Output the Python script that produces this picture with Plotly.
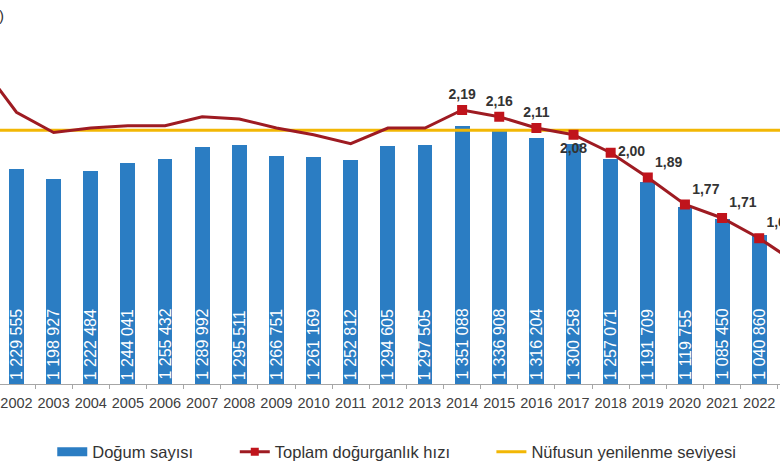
import plotly.graph_objects as go

# births (Doğum sayısı), 2002-2022
birth_years = list(range(2002, 2023))
births = [1229555, 1198927, 1222484, 1244041, 1255432, 1289992, 1295511,
          1266751, 1261169, 1252812, 1294605, 1297505, 1351088, 1336908,
          1316204, 1300258, 1257071, 1191709, 1119755, 1085450, 1040860]

# total fertility rate (Toplam doğurganlık hızı), 2001-2023
tfr_years = list(range(2001, 2024))
tfr = [2.40, 2.18, 2.09, 2.11, 2.12, 2.12, 2.16, 2.15, 2.11, 2.08, 2.04,
       2.11, 2.11, 2.19, 2.16, 2.11, 2.08, 2.00, 1.89, 1.77, 1.71, 1.62, 1.51]

# only these years carry a marker and a value label
label_years = list(range(2014, 2023))
label_pos = ["top center", "top center", "top center", "bottom center",
             "middle right", "top right", "top right", "top right", "top right"]

replacement = 2.10

BLUE = "#2b7dc3"
DARKRED = "#9e1b22"
RED = "#c0141c"
YELLOW = "#f2b705"
FONT = "Liberation Sans, Arial, sans-serif"

birth_txt = [f"{v:,}".replace(",", " ") for v in births]
lab_vals = [tfr[tfr_years.index(y)] for y in label_years]
lab_txt = [f"{v:.2f}".replace(".", ",") for v in lab_vals]

fig = go.Figure()

fig.add_trace(go.Bar(
    x=birth_years, y=births, width=0.4,
    marker=dict(color=BLUE, line=dict(width=0)),
    showlegend=False, hoverinfo="skip",
))

fig.add_trace(go.Scatter(
    x=tfr_years, y=[replacement] * len(tfr_years), yaxis="y2",
    mode="lines", line=dict(color=YELLOW, width=3),
    showlegend=False, hoverinfo="skip",
))

fig.add_trace(go.Scatter(
    x=tfr_years, y=tfr, yaxis="y2",
    mode="lines", line=dict(color=DARKRED, width=3),
    showlegend=False, hoverinfo="skip",
))

fig.add_trace(go.Scatter(
    x=label_years, y=lab_vals, yaxis="y2",
    mode="markers+text",
    marker=dict(symbol="square", size=10, color=RED),
    text=lab_txt, textposition=label_pos,
    textfont=dict(color="#333333", size=14, family=FONT, weight="bold"),
    showlegend=False, hoverinfo="skip",
))

# legend entries (excel style symbols)
fig.add_trace(go.Scatter(
    x=[None], y=[None], mode="lines", name="Doğum sayısı",
    line=dict(color=BLUE, width=9), legend="legend",
))
fig.add_trace(go.Scatter(
    x=[None], y=[None], mode="lines+markers", name="Toplam doğurganlık hızı",
    line=dict(color=DARKRED, width=3),
    marker=dict(symbol="square", size=8, color=RED), legend="legend2",
))
fig.add_trace(go.Scatter(
    x=[None], y=[None], mode="lines", name="Nüfusun yenilenme seviyesi",
    line=dict(color=YELLOW, width=3), legend="legend3",
))

# vertical value labels sitting at the foot of each bar
annots = []
for yr, t in zip(birth_years, birth_txt):
    annots.append(dict(
        text=t, x=yr, xref="x", y=0, yref="paper",
        xanchor="center", yanchor="bottom", yshift=2,
        textangle=-90, showarrow=False,
        font=dict(size=16, color="white", family=FONT),
    ))
annots.append(dict(text=")", xref="paper", yref="paper", x=0, y=1,
                   xanchor="left", yanchor="top", xshift=-3, yshift=-5,
                   showarrow=False,
                   font=dict(size=15, color="#333333", family=FONT)))

leg = dict(orientation="h", yref="container", xref="container",
           yanchor="middle", y=0.038, xanchor="left",
           font=dict(size=16.5, color="#333333", family=FONT),
           bgcolor="rgba(0,0,0,0)")

fig.update_layout(
    width=780, height=470,
    margin=dict(l=0, r=0, t=0, b=86, autoexpand=False),
    paper_bgcolor="white", plot_bgcolor="white",
    font=dict(family=FONT, color="#333333"),
    bargap=0,
    xaxis=dict(
        range=[2001.556, 2022.56],
        tickvals=birth_years, ticks="",
        tickfont=dict(size=14.5, color="#404040"),
        ticklabelstandoff=6,
        showline=True, linecolor="#a6a6a6", linewidth=1,
        showgrid=False, zeroline=False,
        minor=dict(tickmode="linear", tick0=2001.5, dtick=1,
                   ticks="outside", ticklen=4, tickcolor="#a6a6a6",
                   showgrid=False),
    ),
    yaxis=dict(range=[614000, 1711000], visible=False, showgrid=False),
    yaxis2=dict(range=[0.972, 2.679], overlaying="y", visible=False,
                showgrid=False),
    legend=dict(leg, x=0.067),
    legend2=dict(leg, x=0.301),
    legend3=dict(leg, x=0.630),
    annotations=annots,
)

# the page's default body margin would push the chart 8px off
fig.write_html("out.html", config={"displayModeBar": False},
               post_script="document.body.style.margin='0';")
